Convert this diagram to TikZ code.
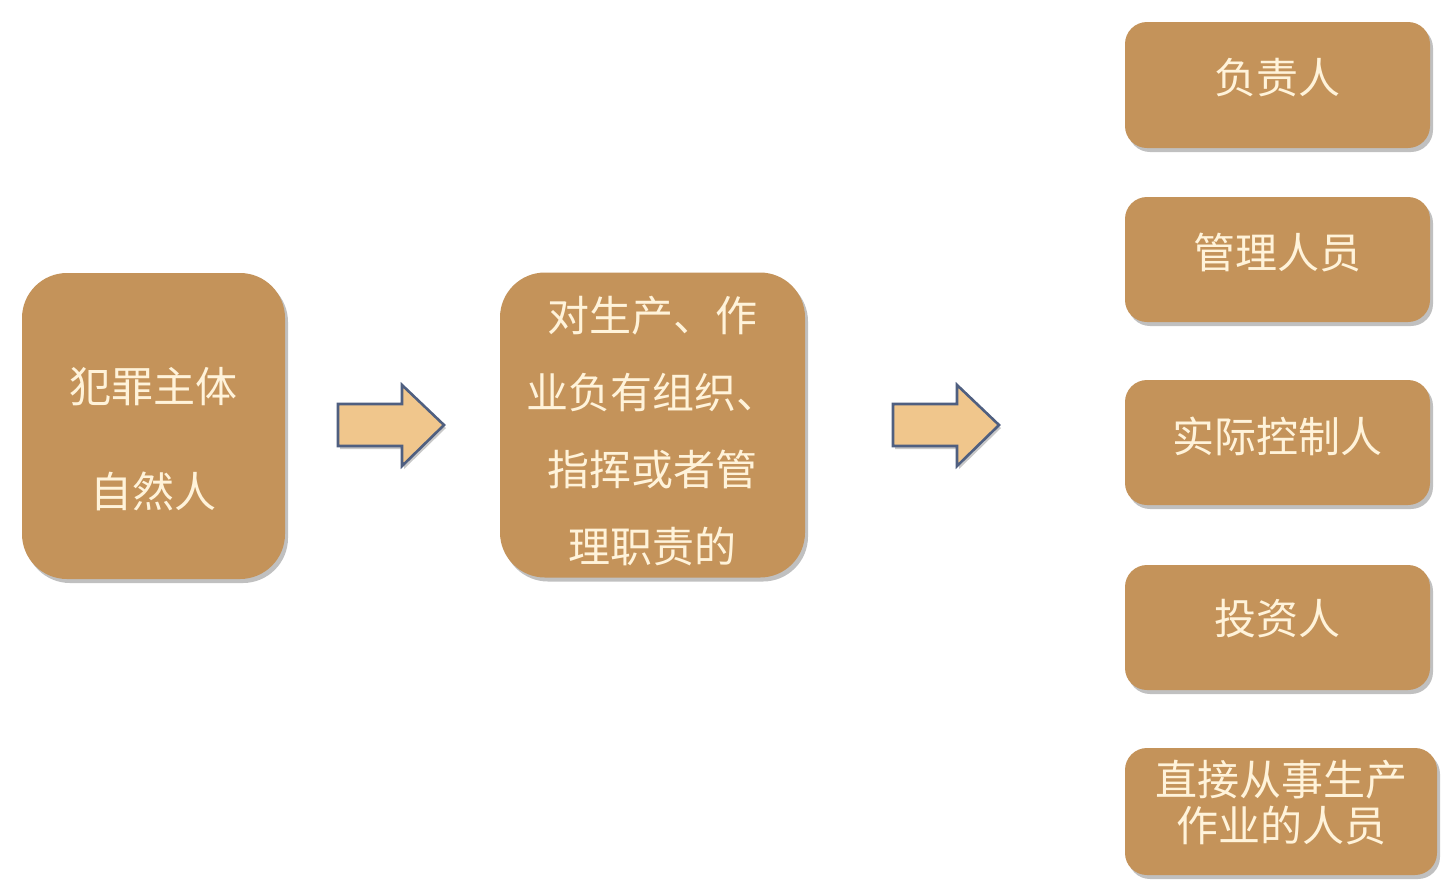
\documentclass[tikz,border=0pt]{standalone}
\usepackage{fontspec}
\setmainfont{Noto Sans CJK SC}
\usetikzlibrary{shadows}
\definecolor{boxfill}{HTML}{C4935A}
\definecolor{boxtext}{HTML}{FFF3DA}
\definecolor{arrowfill}{HTML}{F0C68C}
\definecolor{arrowline}{HTML}{4F5F80}
\tikzset{
  box/.style={draw=none, fill=boxfill, rounded corners=22pt, inner sep=0pt,
    drop shadow={shadow xshift=3pt, shadow yshift=-4pt, opacity=0.35, fill=black!70}},
  boxlabel/.style={text=boxtext, align=center, inner sep=0pt},
  blockarrow/.style={fill=arrowfill, draw=arrowline, line width=2.6pt, line join=miter,
    drop shadow={shadow xshift=2pt, shadow yshift=-3pt, opacity=0.3, fill=black!70}}
}
\begin{document}
\begin{tikzpicture}[x=1pt,y=-1pt]
\useasboundingbox (0,0) rectangle (1447,887);
\fill[white] (0,0) rectangle (1447,887);
% left box
\node[box, minimum width=263pt, minimum height=306pt, rounded corners=45pt] (subj) at (153.5,426) {};
\node[boxlabel, font=\fontsize{42}{105}\selectfont] (subjtext) at ([yshift=-13.5pt]subj.center)
  {犯罪主体\\自然人};
% middle box
\node[box, minimum width=305pt, minimum height=305pt, rounded corners=45pt] (duty) at (652.5,425) {};
\node[boxlabel, font=\fontsize{42}{77}\selectfont] (dutytext) at ([yshift=-6.5pt]duty.center)
  {对生产、作\\业负有组织、\\指挥或者管\\理职责的};
% arrows
\path[blockarrow] (338,404) -- (402,404) -- (402,385) -- (444,425) -- (402,466) -- (402,446) -- (338,446) -- cycle;
\path[blockarrow] (893,404) -- (957,404) -- (957,385) -- (999,425) -- (957,466) -- (957,446) -- (893,446) -- cycle;
% right boxes
\node[box, minimum width=305pt, minimum height=126pt] (r1) at (1277.5,85) {};
\node[boxlabel, font=\fontsize{42}{46}\selectfont] (r1text) at ([yshift=7pt]r1.center) {负责人};
\node[box, minimum width=305pt, minimum height=125pt] (r2) at (1277.5,259.5) {};
\node[boxlabel, font=\fontsize{42}{46}\selectfont] (r2text) at ([yshift=7pt]r2.center) {管理人员};
\node[box, minimum width=305pt, minimum height=125pt] (r3) at (1277.5,442.5) {};
\node[boxlabel, font=\fontsize{42}{46}\selectfont] (r3text) at ([yshift=6.5pt]r3.center) {实际控制人};
\node[box, minimum width=305pt, minimum height=125pt] (r4) at (1277.5,627.5) {};
\node[boxlabel, font=\fontsize{42}{46}\selectfont] (r4text) at ([yshift=9pt]r4.center) {投资人};
\node[box, minimum width=312pt, minimum height=127pt] (r5) at (1281,811.5) {};
\node[boxlabel, font=\fontsize{42}{46}\selectfont] (r5text) at ([yshift=8.5pt]r5.center) {直接从事生产\\作业的人员};
\end{tikzpicture}
\end{document}
